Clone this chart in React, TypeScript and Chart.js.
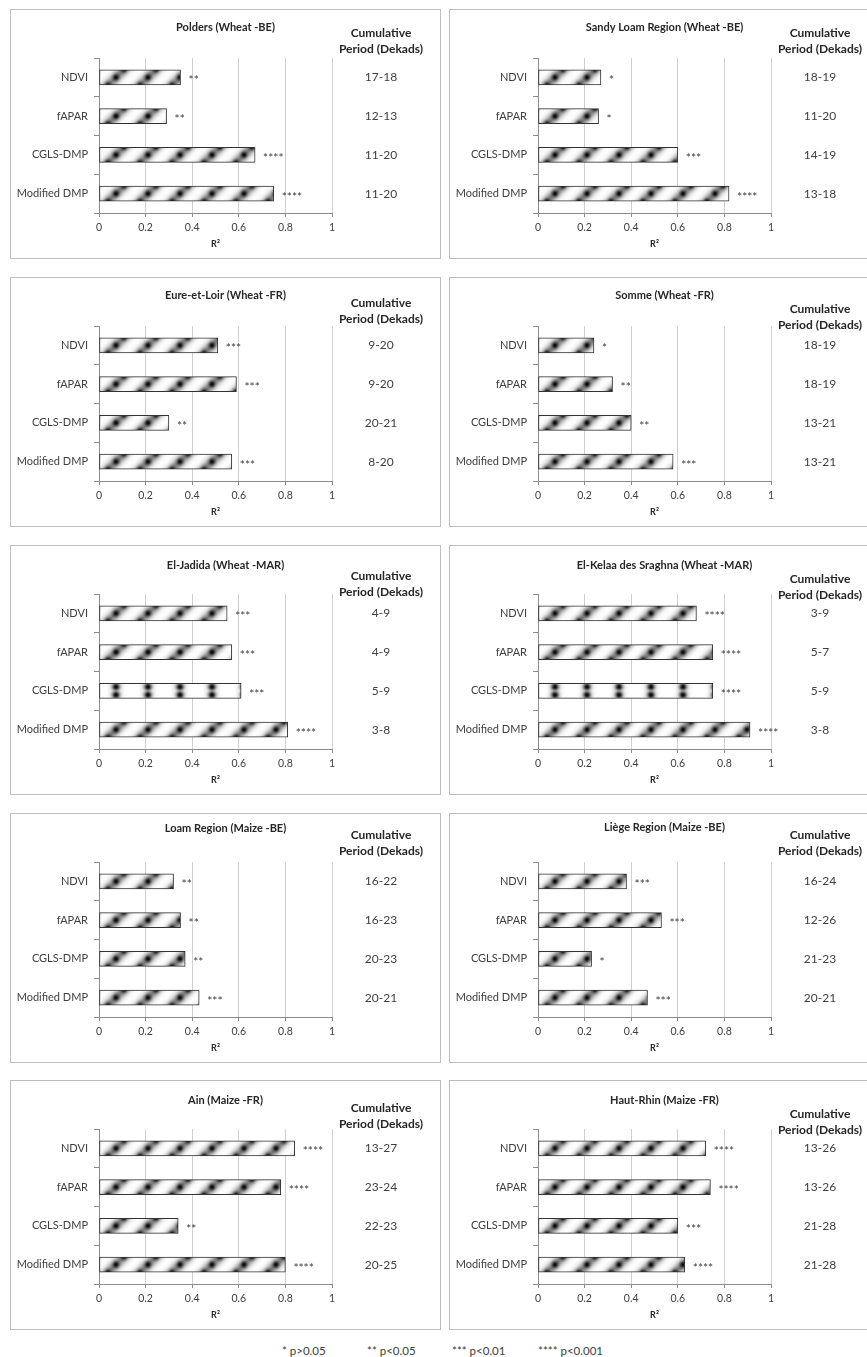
import React, { useEffect, useRef } from "react";
import { Chart, registerables } from "chart.js";

Chart.register(...registerables);

const FONT = "Lato, 'Open Sans', sans-serif";

// Indicators compared in every region
const indicators = ["NDVI", "fAPAR", "CGLS-DMP", "Modified DMP"];
const xTickLabels = ["0", "0.2", "0.4", "0.6", "0.8", "1"];
const xAxisTitle = "R²";
const periodHeader = ["Cumulative", "Period (Dekads)"];
const significanceKey = ["* p>0.05", "** p<0.05", "*** p<0.01", "**** p<0.001"];

const regionTitles = [
  "Polders (Wheat -BE)",
  "Sandy Loam Region (Wheat -BE)",
  "Eure-et-Loir (Wheat -FR)",
  "Somme (Wheat -FR)",
  "El-Jadida (Wheat -MAR)",
  "El-Kelaa des Sraghna (Wheat -MAR)",
  "Loam Region (Maize -BE)",
  "Liège Region (Maize -BE)",
  "Ain (Maize -FR)",
  "Haut-Rhin (Maize -FR)",
];

// R² of each indicator (NDVI, fAPAR, CGLS-DMP, Modified DMP)
const r2Polders = [0.35, 0.29, 0.67, 0.75];
const r2SandyLoam = [0.27, 0.26, 0.6, 0.82];
const r2EureEtLoir = [0.51, 0.59, 0.3, 0.57];
const r2Somme = [0.24, 0.32, 0.4, 0.58];
const r2ElJadida = [0.55, 0.57, 0.61, 0.81];
const r2ElKelaa = [0.68, 0.75, 0.75, 0.91];
const r2Loam = [0.32, 0.35, 0.37, 0.43];
const r2Liege = [0.38, 0.53, 0.23, 0.47];
const r2Ain = [0.84, 0.78, 0.34, 0.8];
const r2HautRhin = [0.72, 0.74, 0.6, 0.63];

// Significance level of each correlation
const sigPolders = ["**", "**", "****", "****"];
const sigSandyLoam = ["*", "*", "***", "****"];
const sigEureEtLoir = ["***", "***", "**", "***"];
const sigSomme = ["*", "**", "**", "***"];
const sigElJadida = ["***", "***", "***", "****"];
const sigElKelaa = ["****", "****", "****", "****"];
const sigLoam = ["**", "**", "**", "***"];
const sigLiege = ["***", "***", "*", "***"];
const sigAin = ["****", "****", "**", "****"];
const sigHautRhin = ["****", "****", "***", "****"];

// Cumulative period (dekads) giving the best fit
const perPolders = ["17-18", "12-13", "11-20", "11-20"];
const perSandyLoam = ["18-19", "11-20", "14-19", "13-18"];
const perEureEtLoir = ["9-20", "9-20", "20-21", "8-20"];
const perSomme = ["18-19", "18-19", "13-21", "13-21"];
const perElJadida = ["4-9", "4-9", "5-9", "3-8"];
const perElKelaa = ["3-9", "5-7", "5-9", "3-8"];
const perLoam = ["16-22", "16-23", "20-23", "20-21"];
const perLiege = ["16-24", "12-26", "21-23", "20-21"];
const perAin = ["13-27", "23-24", "22-23", "20-25"];
const perHautRhin = ["13-26", "13-26", "21-28", "21-28"];

const r2Sets = [r2Polders, r2SandyLoam, r2EureEtLoir, r2Somme, r2ElJadida, r2ElKelaa, r2Loam, r2Liege, r2Ain, r2HautRhin];
const sigSets = [sigPolders, sigSandyLoam, sigEureEtLoir, sigSomme, sigElJadida, sigElKelaa, sigLoam, sigLiege, sigAin, sigHautRhin];
const perSets = [perPolders, perSandyLoam, perEureEtLoir, perSomme, perElJadida, perElKelaa, perLoam, perLiege, perAin, perHautRhin];

// Presentation: fill texture per bar, and vertical placement of the panel texts
type Fill = "diag" | "grid";
const D: Fill = "diag";
const G: Fill = "grid";
const fillKinds: Fill[][] = [
  [D, D, D, D], [D, D, D, D], [D, D, D, D], [D, D, D, D],
  [D, D, G, D], [D, D, G, D], [D, D, D, D], [D, D, D, D],
  [D, D, D, D], [D, D, D, D],
];
const titleY = [17, 17, 17, 17, 19, 19, 14, 13, 19, 19];
const headerY = [23, 23, 25, 31, 30, 33, 21, 21, 27, 33];

const PANEL_W = 431;
const PANEL_H = 250;
const colLeft = [10, 449];
const rowTop = [9, 277, 545, 813, 1080];

function makeTile(kind: Fill): HTMLCanvasElement {
  const S = 32;
  const c = document.createElement("canvas");
  c.width = S;
  c.height = S;
  const g = c.getContext("2d")!;
  const img = g.createImageData(S, S);
  const dots =
    kind === "diag"
      ? [[0, 0], [8, 24], [16, 16], [24, 8]]
      : [[16, 4], [16, 12], [16, 20], [16, 28]];
  for (let py = 0; py < S; py++) {
    for (let px = 0; px < S; px++) {
      const x = px + 0.5;
      const y = py + 0.5;
      let band: number;
      if (kind === "diag") {
        let u = (x + y) % 32;
        if (u > 16) u -= 32;
        const d = u / Math.SQRT2;
        band = 0.5 * Math.exp(-(d * d) / (2 * 3.6 * 3.6));
      } else {
        const d = x - 16;
        const h = ((y % 8) + 8) % 8 - 4;
        band = 0.5 * Math.exp(-(d * d) / (2 * 3.4 * 3.4)) * (0.55 + 0.45 * Math.exp(-(h * h) / 6));
      }
      let r2 = Infinity;
      for (const [dx, dy] of dots) {
        for (const ox of [-32, 0, 32]) {
          for (const oy of [-32, 0, 32]) {
            const ex = x - dx - ox;
            const ey = y - dy - oy;
            const q = ex * ex + ey * ey;
            if (q < r2) r2 = q;
          }
        }
      }
      const dot = 0.97 * Math.exp(-r2 / (2 * 2.1 * 2.1));
      const dark = 1 - (1 - band) * (1 - dot);
      const v = Math.round(255 * (1 - dark));
      const k = (py * S + px) * 4;
      img.data[k] = v;
      img.data[k + 1] = v;
      img.data[k + 2] = v;
      img.data[k + 3] = 255;
    }
  }
  g.putImageData(img, 0, 0);
  return c;
}

const BAR_H = 15;

// Texts around the plot: title, cumulative-period column and significance stars
const panelText = {
  id: "panelText",
  afterDraw(chart: any, _args: any, opts: any) {
    const { ctx } = chart;
    const ys = chart.scales.y;
    ctx.save();
    ctx.textAlign = "center";
    ctx.textBaseline = "middle";
    ctx.fillStyle = "#262626";
    ctx.font = `bold 11px ${FONT}`;
    ctx.fillText(opts.title, chart.width / 2, opts.titleY);
    ctx.font = `bold 12px ${FONT}`;
    opts.header.forEach((line: string, i: number) => ctx.fillText(line, opts.colX, opts.headerY + i * 16));
    ctx.font = `12px ${FONT}`;
    ctx.fillStyle = "#404040";
    opts.periods.forEach((p: string, i: number) => ctx.fillText(p, opts.colX, ys.getPixelForValue(i)));
    const meta = chart.getDatasetMeta(0);
    ctx.textAlign = "left";
    ctx.font = `12px ${FONT}`;
    meta.data.forEach((bar: any, i: number) => ctx.fillText(opts.stars[i], bar.x + 8, bar.y + 3));
    ctx.restore();
  },
};

function Panel({ idx }: { idx: number }) {
  const ref = useRef<HTMLCanvasElement>(null);
  const left = colLeft[idx % 2];
  const top = rowTop[Math.floor(idx / 2)];

  useEffect(() => {
    const canvas = ref.current;
    if (!canvas) return;
    const tiles: Record<Fill, HTMLCanvasElement> = { diag: makeTile("diag"), grid: makeTile("grid") };
    const kinds = fillKinds[idx];
    const chart = new Chart(canvas, {
      type: "bar",
      data: {
        labels: indicators,
        datasets: [
          {
            data: r2Sets[idx],
            backgroundColor: (c: any) => {
              const ch = c.chart;
              const xs = ch.scales?.x;
              const ys = ch.scales?.y;
              if (!xs || !ys || c.dataIndex == null) return "#ffffff";
              const pat = ch.ctx.createPattern(tiles[kinds[c.dataIndex]], "repeat");
              const x0 = xs.getPixelForValue(0);
              const yc = ys.getPixelForValue(c.dataIndex);
              pat.setTransform(new DOMMatrix([1, 0, 0, 1, x0 + 1, yc - 16]));
              return pat;
            },
            borderColor: "#333333",
            borderWidth: 1,
            borderSkipped: false,
            barThickness: BAR_H,
          },
        ],
      },
      options: {
        indexAxis: "y",
        responsive: false,
        animation: false,
        events: [],
        layout: { padding: { top: 48, right: 108, left: 0, bottom: 0 } },
        plugins: {
          legend: { display: false },
          tooltip: { enabled: false },
          panelText: {
            title: regionTitles[idx],
            titleY: titleY[idx],
            header: periodHeader,
            headerY: headerY[idx],
            colX: 370,
            periods: perSets[idx],
            stars: sigSets[idx],
          },
        } as any,
        scales: {
          x: {
            min: 0,
            max: 1,
            ticks: {
              stepSize: 0.2,
              callback: (_v: any, i: number) => xTickLabels[i],
              font: { family: FONT, size: 10.5 },
              color: "#404040",
              padding: 4,
              maxRotation: 0,
            },
            grid: { color: "#d0d0d0", tickColor: "#8c8c8c", tickLength: 4 },
            border: { color: "#8c8c8c" },
            title: {
              display: true,
              text: xAxisTitle,
              font: { family: FONT, size: 9, weight: "bold" },
              color: "#262626",
              padding: { top: 0, bottom: 9 },
            },
            afterFit: (s: any) => {
              s.height = 45;
            },
          },
          y: {
            ticks: { font: { family: FONT, size: 11 }, color: "#404040", padding: 6 },
            grid: { drawOnChartArea: false, color: "#8c8c8c", tickLength: 5, offset: true },
            border: { color: "#8c8c8c" },
            afterFit: (s: any) => {
              s.width = 88;
            },
          },
        },
      } as any,
      plugins: [panelText],
    });
    return () => chart.destroy();
  }, [idx]);

  return (
    <div
      style={{
        position: "absolute",
        left,
        top,
        width: PANEL_W,
        height: PANEL_H,
        boxSizing: "border-box",
        border: "1px solid #bdbdbd",
        background: "#ffffff",
      }}
    >
      <canvas ref={ref} width={PANEL_W - 2} height={PANEL_H - 2} style={{ display: "block" }} />
    </div>
  );
}

const keyLeft = [282, 367, 452, 538];

export default function App() {
  return (
    <div
      style={{
        position: "absolute",
        left: 0,
        top: 0,
        width: 867,
        height: 1357,
        overflow: "hidden",
        background: "#ffffff",
        fontFamily: FONT,
      }}
    >
      {regionTitles.map((_t, i) => (
        <Panel key={i} idx={i} />
      ))}
      {significanceKey.map((s, i) => (
        <span
          key={s}
          style={{
            position: "absolute",
            left: keyLeft[i],
            top: 1344,
            fontSize: 11.5,
            lineHeight: "14px",
            color: "#404040",
            whiteSpace: "nowrap",
          }}
        >
          {s}
        </span>
      ))}
    </div>
  );
}
